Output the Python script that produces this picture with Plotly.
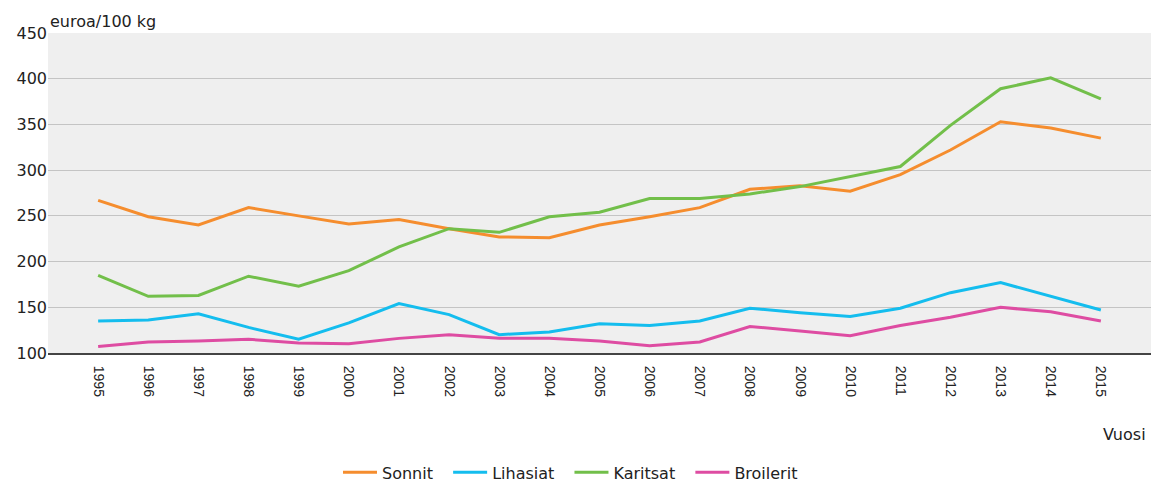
import plotly.graph_objects as go

years = list(range(1995, 2016))
sonnit = [267, 249, 240, 259, 250, 241, 246, 236, 227, 226, 240, 249, 259, 279, 283, 277, 295, 322, 353, 346, 335]
lihasiat = [135, 136, 143, 128, 115, 133, 154, 142, 120, 123, 132, 130, 135, 149, 144, 140, 149, 166, 177, 162, 147]
karitsat = [185, 162, 163, 184, 173, 190, 216, 236, 232, 249, 254, 269, 269, 274, 282, 293, 304, 349, 389, 401, 378]
broilerit = [107, 112, 113, 115, 111, 110, 116, 120, 116, 116, 113, 108, 112, 129, 124, 119, 130, 139, 150, 145, 135]

series = [
    ("Sonnit", sonnit, "#F58D2E"),
    ("Lihasiat", lihasiat, "#14BDEE"),
    ("Karitsat", karitsat, "#72BF4A"),
    ("Broilerit", broilerit, "#DE4CA2"),
]

fig = go.Figure()
for name, vals, col in series:
    fig.add_trace(go.Scatter(x=years, y=vals, name=name + "\u00a0\u00a0", mode="lines",
                             line=dict(color=col, width=3)))

hfont = "DejaVu Sans, Verdana, sans-serif"
vfont = "Liberation Sans, Arial, sans-serif"
txt = "#222"
fig.update_layout(
    width=1151, height=482,
    margin=dict(l=48, r=0, t=33, b=129),
    paper_bgcolor="white",
    plot_bgcolor="#EFEFEF",
    font=dict(family=hfont, size=16, color=txt),
    showlegend=True,
    legend=dict(orientation="h", xref="container", yref="container",
                x=0.5, xanchor="center", y=0.02, yanchor="middle", itemwidth=34,
                font=dict(family=hfont, size=16, color=txt), traceorder="normal"),
    xaxis=dict(range=[1994, 2016], tickmode="array", tickvals=years,
               ticktext=[str(y) for y in years], tickangle=90,
               showgrid=False, zeroline=False, showline=True, automargin=False,
               linecolor="#444", linewidth=2, ticks="", ticklabelstandoff=8,
               tickfont=dict(family=vfont, size=14, color=txt)),
    yaxis=dict(range=[100, 450], tickvals=[100, 150, 200, 250, 300, 350, 400, 450],
               showgrid=True, gridcolor="#C4C4C4", gridwidth=1, automargin=False,
               zeroline=False, showline=False, ticks="",
               tickfont=dict(family=hfont, size=16, color=txt)),
    annotations=[
        dict(text="euroa/100 kg", xref="paper", yref="paper", x=0.0, y=1.0,
             xanchor="left", yanchor="bottom", showarrow=False, xshift=0,
             font=dict(family=hfont, size=16, color=txt)),
        dict(text="Vuosi", xref="paper", yref="paper", x=1.0, y=-0.256,
             xanchor="right", yanchor="middle", showarrow=False, xshift=-3,
             font=dict(family=hfont, size=16, color=txt)),
    ],
)

post = ("document.body.style.margin='0';"
        "document.body.style.overflow='hidden';"
        "document.documentElement.style.overflow='hidden';")
fig.write_html("out.html", post_script=post, config={"displayModeBar": False})
